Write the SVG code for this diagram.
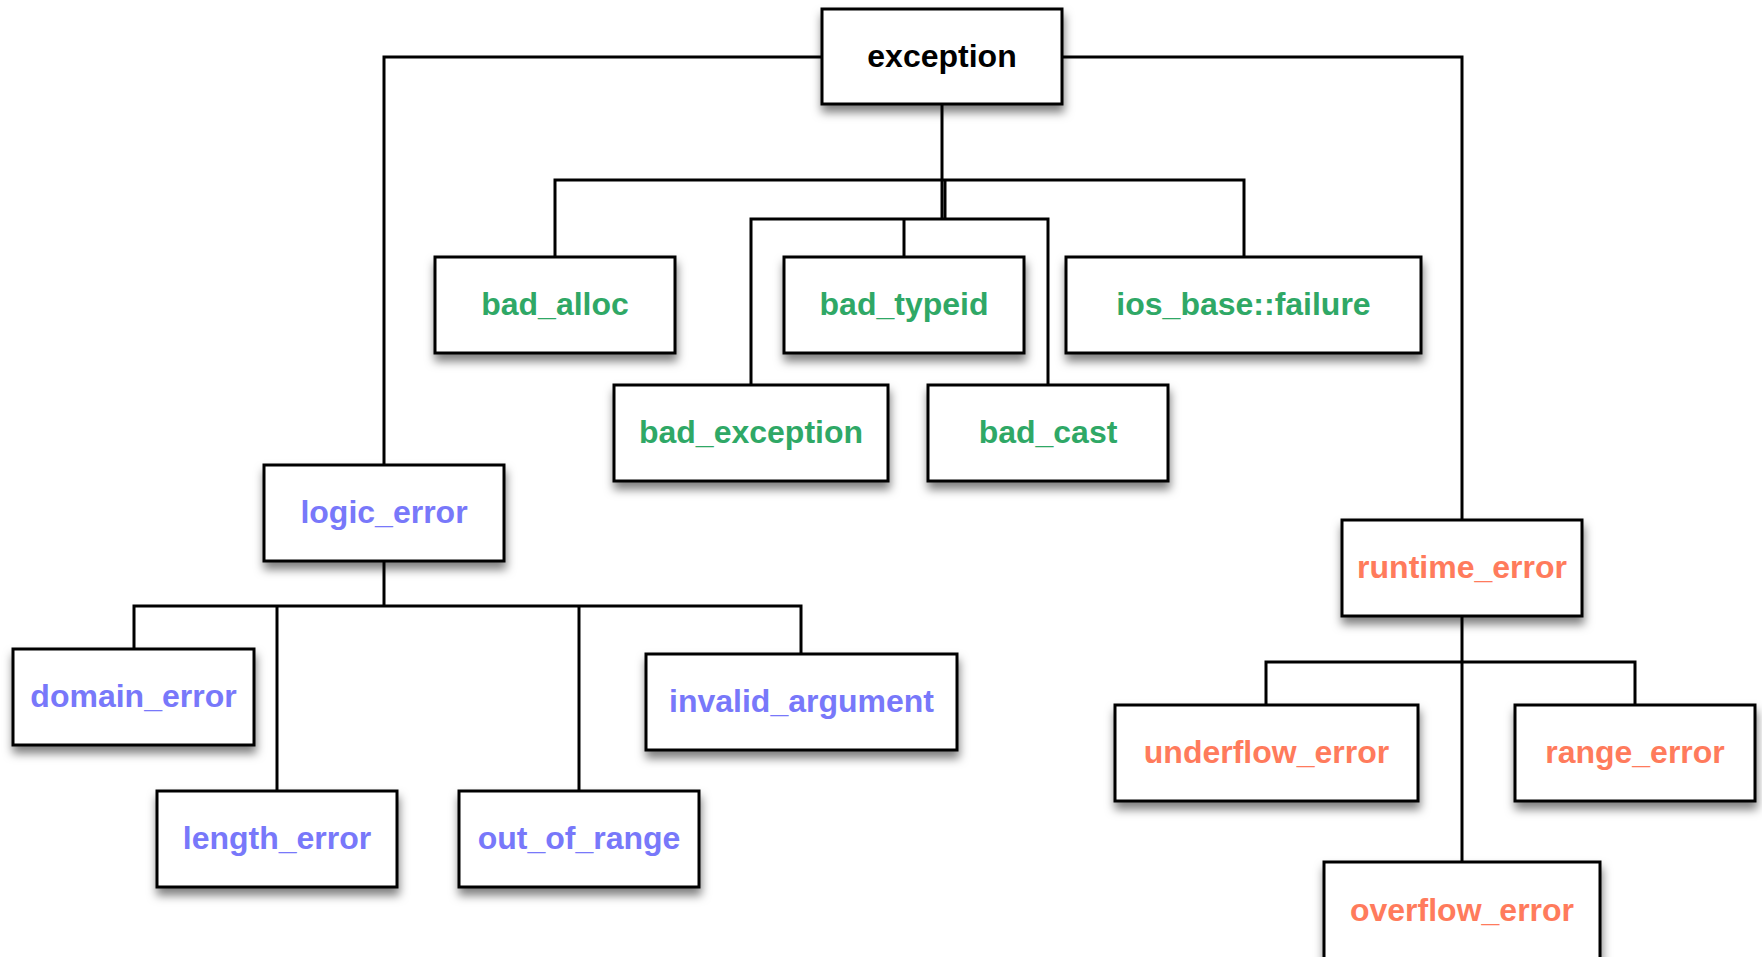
<svg xmlns="http://www.w3.org/2000/svg" width="1762" height="957" viewBox="0 0 1762 957">
<defs>
<filter id="sh" x="-20%" y="-20%" width="140%" height="150%">
<feDropShadow dx="1" dy="7" stdDeviation="5" flood-color="#000" flood-opacity="0.5"/>
</filter>
</defs>
<style>
.box{fill:#fff;stroke:#000;stroke-width:3;filter:url(#sh)}
.lbl{font-family:"Liberation Sans",Arial,sans-serif;font-weight:bold;font-size:32px;text-anchor:middle}
.k{fill:#000}
.g{fill:#2FA866}
.p{fill:#7878FA}
.o{fill:#FF7B5C}
.c{fill:none;stroke:#000;stroke-width:3}
</style>
<rect width="1762" height="957" fill="#fff"/>
<g id="connectors" class="c">
<path d="M822,57 H384 V465"/>
<path d="M1062,57 H1462 V520"/>
<path d="M942,104 V219"/>
<path d="M555,257 V180 H1244 V257"/>
<path d="M945,180 V219"/>
<path d="M751,385 V219 H1048 V385"/>
<path d="M904,219 V257"/>
<path d="M384,561 V606"/>
<path d="M134,649 V606 H801 V654"/>
<path d="M277,606 V791"/>
<path d="M579,606 V791"/>
<path d="M1462,616 V862"/>
<path d="M1266,705 V662 H1635 V705"/>
</g>
<g id="exception"><rect class="box" x="822" y="9" width="240" height="95"/><text class="lbl k" x="942" y="67">exception</text></g>
<g id="bad_alloc"><rect class="box" x="435" y="257" width="240" height="96"/><text class="lbl g" x="555" y="315">bad_alloc</text></g>
<g id="bad_typeid"><rect class="box" x="784" y="257" width="240" height="96"/><text class="lbl g" x="904" y="315">bad_typeid</text></g>
<g id="ios_base_failure"><rect class="box" x="1066" y="257" width="355" height="96"/><text class="lbl g" x="1243.5" y="315">ios_base::failure</text></g>
<g id="bad_exception"><rect class="box" x="614" y="385" width="274" height="96"/><text class="lbl g" x="751" y="443">bad_exception</text></g>
<g id="bad_cast"><rect class="box" x="928" y="385" width="240" height="96"/><text class="lbl g" x="1048" y="443">bad_cast</text></g>
<g id="logic_error"><rect class="box" x="264" y="465" width="240" height="96"/><text class="lbl p" x="384" y="523">logic_error</text></g>
<g id="domain_error"><rect class="box" x="13" y="649" width="241" height="96"/><text class="lbl p" x="133.5" y="707">domain_error</text></g>
<g id="invalid_argument"><rect class="box" x="646" y="654" width="311" height="96"/><text class="lbl p" x="801.5" y="712">invalid_argument</text></g>
<g id="length_error"><rect class="box" x="157" y="791" width="240" height="96"/><text class="lbl p" x="277" y="849">length_error</text></g>
<g id="out_of_range"><rect class="box" x="459" y="791" width="240" height="96"/><text class="lbl p" x="579" y="849">out_of_range</text></g>
<g id="runtime_error"><rect class="box" x="1342" y="520" width="240" height="96"/><text class="lbl o" x="1462" y="578">runtime_error</text></g>
<g id="underflow_error"><rect class="box" x="1115" y="705" width="303" height="96"/><text class="lbl o" x="1266.5" y="763">underflow_error</text></g>
<g id="range_error"><rect class="box" x="1515" y="705" width="240" height="96"/><text class="lbl o" x="1635" y="763">range_error</text></g>
<g id="overflow_error"><rect class="box" x="1324" y="862" width="276" height="110"/><text class="lbl o" x="1462" y="921">overflow_error</text></g>
</svg>
